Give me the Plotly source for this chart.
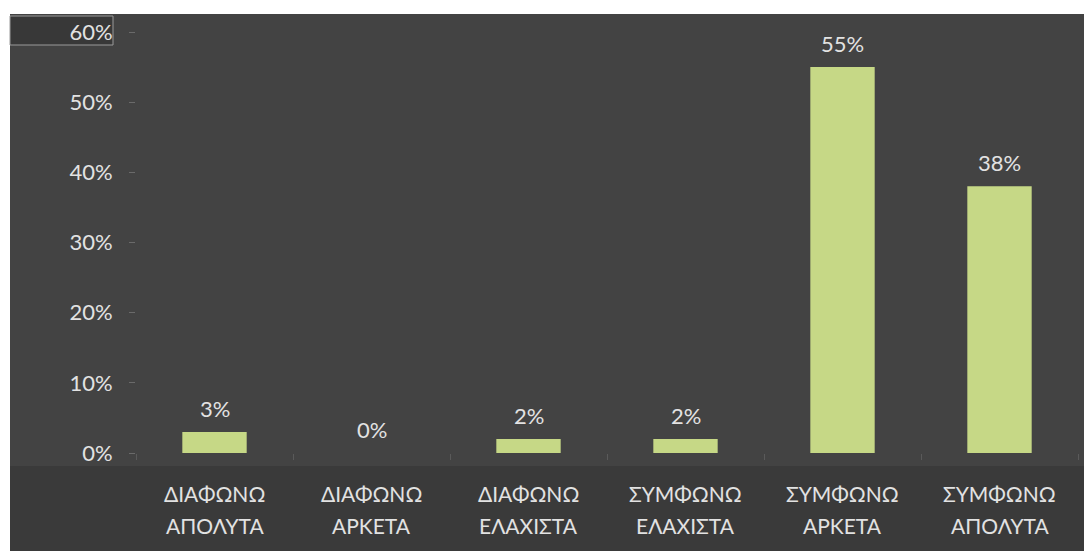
import plotly.graph_objects as go

# Survey responses (share of respondents, %)
categories = [
    "ΔΙΑΦΩΝΩ ΑΠΟΛΥΤΑ",
    "ΔΙΑΦΩΝΩ ΑΡΚΕΤΑ",
    "ΔΙΑΦΩΝΩ ΕΛΑΧΙΣΤΑ",
    "ΣΥΜΦΩΝΩ ΕΛΑΧΙΣΤΑ",
    "ΣΥΜΦΩΝΩ ΑΡΚΕΤΑ",
    "ΣΥΜΦΩΝΩ ΑΠΟΛΥΤΑ",
]
values = [3, 0, 2, 2, 55, 38]
y_ticks = [0, 10, 20, 30, 40, 50, 60]
y_tick_labels = [f"{v}%" for v in y_ticks]

FONT = "Lato"
BAR = "#c6d886"
PANEL = "#434343"
STRIP = "#3a3a3a"
TEXT = "#e2e2e2"

# plot area in pixels: x 136..1078, y 32..453
L, R, T, B = 136, 6, 32, 98
W, H = 1084, 551
pw, ph = W - L - R, H - T - B


def px_x(x):
    return (x - L) / pw


def px_y(y):
    return (H - B - y) / ph


fig = go.Figure()
fig.add_trace(go.Bar(
    x=categories,
    y=values,
    marker=dict(color=BAR, line=dict(width=0)),
    width=0.41,
    hoverinfo="skip",
))

# value labels above each bar
for cat, v in zip(categories, values):
    fig.add_annotation(
        x=cat, y=v, text=f"{v}%", showarrow=False,
        yanchor="bottom", yshift=8,
        font=dict(family=FONT, size=22, color=TEXT),
    )

# two-line category labels under the axis
for cat in categories:
    first, second = cat.split(" ", 1)
    for line, ypx in ((first, 493), (second, 525)):
        fig.add_annotation(
            x=cat, xref="x", y=px_y(ypx), yref="paper", text=line,
            showarrow=False, yanchor="middle",
            font=dict(family=FONT, size=21, color=TEXT),
        )

shapes = [
    # chart panel
    dict(type="rect", xref="paper", yref="paper", layer="below",
         x0=px_x(10), x1=px_x(1084), y0=px_y(551), y1=px_y(14),
         fillcolor=PANEL, line=dict(width=0)),
    # category strip
    dict(type="rect", xref="paper", yref="paper", layer="below",
         x0=px_x(10), x1=px_x(1084), y0=px_y(551), y1=px_y(466),
         fillcolor=STRIP, line=dict(width=0)),
    # framed box behind the top tick label
    dict(type="rect", xref="paper", yref="paper", layer="below",
         x0=px_x(10), x1=px_x(113), y0=px_y(45), y1=px_y(16),
         fillcolor="#383838", line=dict(width=1, color="#9a9a9a")),
]

fig.update_layout(
    width=W, height=H,
    margin=dict(l=L, r=R, t=T, b=B, pad=0),
    paper_bgcolor="white",
    plot_bgcolor=PANEL,
    showlegend=False,
    bargap=0.59,
    shapes=shapes,
    font=dict(family=FONT, color=TEXT),
)
fig.update_yaxes(
    range=[0, 60],
    tickvals=y_ticks, ticktext=y_tick_labels,
    showgrid=False, zeroline=False, showline=False,
    ticks="outside", ticklen=6, tickcolor="#6a6a6a",
    ticklabelstandoff=12,
    tickfont=dict(family=FONT, size=22, color=TEXT),
)
fig.update_xaxes(
    showgrid=False, showline=False, zeroline=False,
    ticks="outside", tickson="boundaries", ticklen=6, tickcolor="#5a5a5a",
    showticklabels=False,
)

fig.write_html("out.html")
